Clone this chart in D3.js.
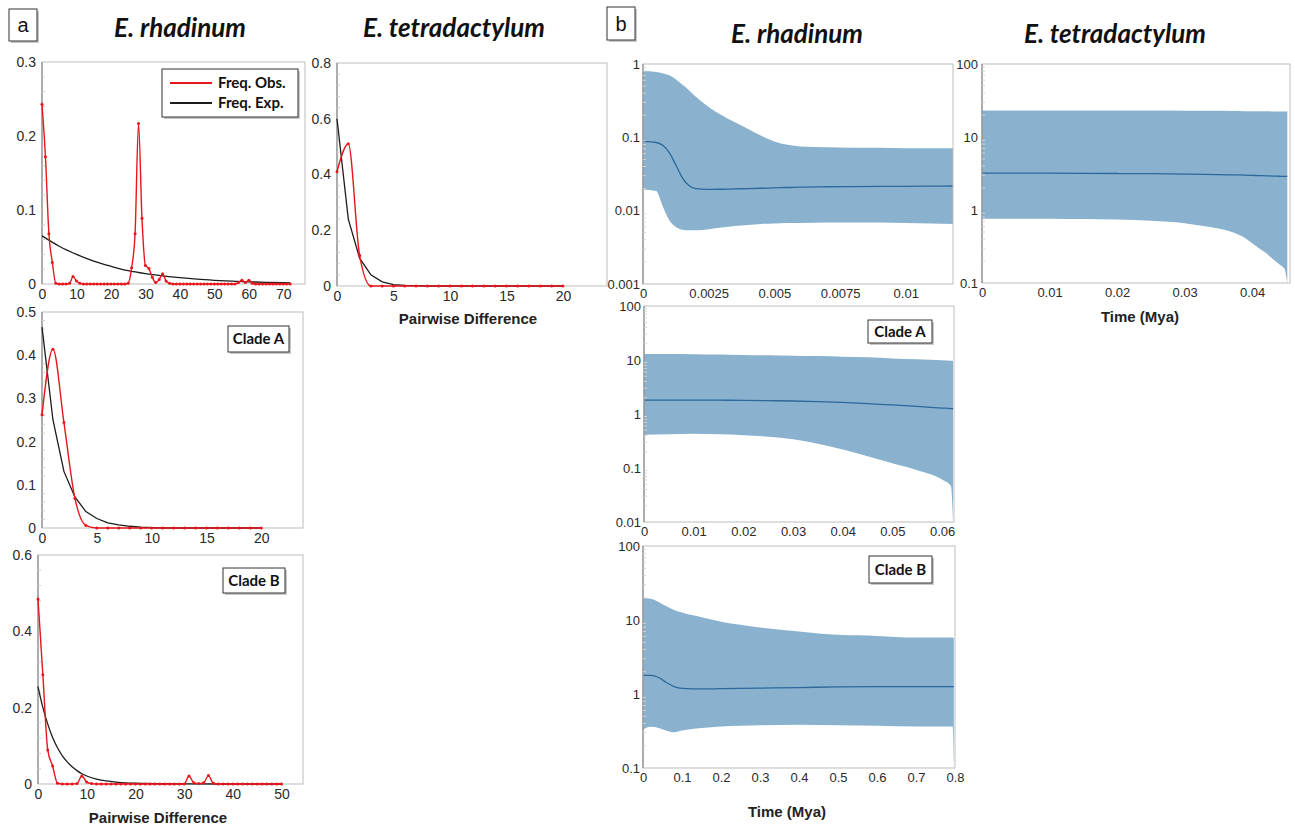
<!DOCTYPE html>
<html>
<head>
<meta charset="utf-8">
<script src="https://cdn.jsdelivr.net/npm/d3@7"></script>
<style>
  body { margin: 0; background: #fff; }
  svg { display: block; }
  text { font-family: "Liberation Sans", Arial, sans-serif; }
</style>
</head>
<body>
<svg id="fig" width="1295" height="827"></svg>
<script>
// ---- (a) mismatch distributions: index = pairwise difference ----
const rhaObs = [0.243, 0.172, 0.068, 0.029, 0.001, 0, 0, 0, 0.001, 0.010,
  0.004, 0.001, 0, 0, 0, 0, 0, 0, 0, 0,
  0, 0, 0, 0, 0, 0.001, 0.022, 0.068, 0.217, 0.089,
  0.025, 0.021, 0.009, 0.002, 0.006, 0.014, 0.004, 0.001, 0, 0,
  0, 0, 0, 0, 0, 0, 0, 0, 0, 0,
  0, 0, 0, 0, 0, 0, 0, 0.002, 0.005, 0.002,
  0.005, 0.001, 0, 0, 0, 0, 0, 0, 0, 0,
  0, 0, 0];
const rhaExpX = [0, 5, 10, 15, 20, 25, 30, 35, 40, 45, 50, 55, 60, 65, 72];
const rhaExp = [0.065, 0.051, 0.040, 0.031, 0.024, 0.018, 0.014, 0.011, 0.0085, 0.0065, 0.005, 0.0038, 0.003, 0.0022, 0.0015];

const cladeAObs = [0.262, 0.414, 0.244, 0.069, 0.006, 0, 0, 0, 0, 0, 0, 0, 0, 0, 0, 0, 0, 0, 0, 0, 0];
const cladeAExp = [0.465, 0.250, 0.131, 0.072, 0.038, 0.022, 0.012, 0.007, 0.004, 0.002, 0.001, 0, 0, 0, 0, 0, 0, 0, 0, 0, 0];

const cladeBObs = [0.485, 0.286, 0.089, 0.047, 0.002, 0, 0, 0, 0.001, 0.021,
  0.005, 0.001, 0, 0, 0, 0, 0, 0, 0, 0,
  0, 0, 0, 0, 0, 0, 0, 0, 0, 0,
  0, 0.021, 0.003, 0.001, 0.003, 0.022, 0.002, 0, 0, 0,
  0, 0, 0, 0, 0, 0, 0, 0, 0, 0,
  0];
const cladeBExpX = [0, 1, 2, 3, 4, 5, 6, 7, 8, 9, 10, 12, 14, 16, 18, 20, 25, 30, 40, 50];
const cladeBExp = [0.255, 0.200, 0.157, 0.122, 0.095, 0.074, 0.058, 0.045, 0.035, 0.027, 0.021, 0.013, 0.008, 0.005, 0.003, 0.002, 0.0007, 0.0002, 0, 0];

const tetObs = [0.41, 0.51, 0.11, 0, 0, 0, 0, 0, 0, 0, 0, 0, 0, 0, 0, 0, 0, 0, 0, 0, 0];
const tetExp = [0.60, 0.24, 0.10, 0.04, 0.015, 0.005, 0.002, 0.001, 0, 0, 0, 0, 0, 0, 0, 0, 0, 0, 0, 0, 0];

// ---- (b) Bayesian skyline plots: time (Mya), 95% HPD and median ----
const rhaT = [0, 0.0005, 0.00075, 0.001, 0.00125, 0.0015, 0.00175, 0.002, 0.0025, 0.003, 0.0035, 0.004, 0.0045, 0.005, 0.0055, 0.006, 0.007, 0.008, 0.009, 0.01, 0.011, 0.0118];
const rhaHi = [0.80, 0.78, 0.75, 0.70, 0.62, 0.52, 0.44, 0.36, 0.26, 0.20, 0.16, 0.13, 0.105, 0.088, 0.079, 0.075, 0.073, 0.072, 0.072, 0.071, 0.071, 0.071];
const rhaMed = [0.088, 0.085, 0.078, 0.062, 0.042, 0.028, 0.022, 0.020, 0.0195, 0.0196, 0.0198, 0.020, 0.0202, 0.0205, 0.0207, 0.021, 0.0212, 0.0213, 0.0214, 0.0215, 0.0216, 0.0217];
const rhaLo = [0.0195, 0.0185, 0.0115, 0.0074, 0.0060, 0.0055, 0.0054, 0.0054, 0.0056, 0.0059, 0.0062, 0.0064, 0.0066, 0.0067, 0.0068, 0.0068, 0.0069, 0.0069, 0.0069, 0.0068, 0.0067, 0.0066];

const tetT = [0, 0.005, 0.01, 0.015, 0.02, 0.025, 0.03, 0.033, 0.035, 0.037, 0.039, 0.04, 0.041, 0.042, 0.043, 0.044, 0.0448, 0.0452];
const tetHi = [23.0, 23.0, 23.0, 23.0, 23.0, 23.0, 22.9, 22.9, 22.8, 22.7, 22.6, 22.6, 22.5, 22.5, 22.4, 22.4, 22.3, 22.3];
const tetMed = [3.2, 3.2, 3.2, 3.18, 3.16, 3.14, 3.1, 3.08, 3.06, 3.03, 3.0, 2.98, 2.96, 2.94, 2.92, 2.9, 2.88, 2.88];
const tetLo = [0.76, 0.76, 0.76, 0.75, 0.74, 0.71, 0.66, 0.60, 0.56, 0.50, 0.41, 0.35, 0.30, 0.26, 0.215, 0.18, 0.155, 0.10];

const aT = [0, 0.005, 0.01, 0.015, 0.02, 0.025, 0.03, 0.035, 0.04, 0.045, 0.05, 0.055, 0.06, 0.0618, 0.0622];
const aHi = [12.9, 12.9, 12.8, 12.6, 12.4, 12.2, 12.0, 11.8, 11.5, 11.2, 10.7, 10.3, 9.9, 9.7, 9.6];
const aMed = [1.80, 1.80, 1.81, 1.80, 1.79, 1.77, 1.74, 1.70, 1.64, 1.56, 1.47, 1.38, 1.29, 1.26, 1.25];
const aLo = [0.415, 0.42, 0.43, 0.42, 0.405, 0.38, 0.34, 0.28, 0.22, 0.165, 0.122, 0.091, 0.061, 0.046, 0.01];

const bT = [0, 0.01, 0.02, 0.04, 0.06, 0.08, 0.1, 0.15, 0.2, 0.25, 0.3, 0.4, 0.5, 0.6, 0.7, 0.794, 0.797];
const bHi = [19.7, 19.6, 19.3, 17.5, 15.3, 13.7, 12.6, 10.9, 9.5, 8.6, 7.9, 7.0, 6.3, 6.1, 5.8, 5.8, 5.7];
const bMed = [1.78, 1.78, 1.78, 1.67, 1.43, 1.26, 1.19, 1.17, 1.18, 1.19, 1.20, 1.22, 1.25, 1.26, 1.26, 1.26, 1.26];
const bLo = [0.33, 0.353, 0.36, 0.347, 0.319, 0.303, 0.32, 0.347, 0.365, 0.372, 0.377, 0.385, 0.377, 0.373, 0.365, 0.365, 0.1];

const svg = d3.select("#fig");
const RED = "#e8161b", BAND = "#8ab2cf", MEDIAN = "#2c6899";
const LABEL_FONT = "Lato, 'Liberation Sans', sans-serif";

// boxed label with a soft drop shadow
function box(x, y, w, h, label, size, bold) {
  svg.append("rect").attr("x", x + 2).attr("y", y + 2).attr("width", w).attr("height", h)
    .attr("fill", "#9a9a9a").attr("opacity", 0.55);
  svg.append("rect").attr("x", x).attr("y", y).attr("width", w).attr("height", h)
    .attr("fill", "#fff").attr("stroke", "#333").attr("stroke-width", 1);
  svg.append("text").attr("x", x + w / 2).attr("y", y + h / 2).attr("dy", "0.35em")
    .attr("text-anchor", "middle").style("font-size", size + "px")
    .style("font-family", bold ? LABEL_FONT : null)
    .style("font-weight", bold ? "bold" : "normal").attr("fill", "#111").text(label);
}

function title(x, y, txt) {
  svg.append("text").attr("x", x).attr("y", y).attr("text-anchor", "middle")
    .style("font-family", LABEL_FONT)
    .style("font-size", "26px").style("font-weight", "bold").style("font-style", "italic")
    .attr("fill", "#111").text(txt);
}

function axisLabel(x, y, txt) {
  svg.append("text").attr("x", x).attr("y", y).attr("text-anchor", "middle")
    .style("font-size", "15px").style("font-weight", "bold").attr("fill", "#222").text(txt);
}

function drawAxes(g, p, x, y, yPad, fs) {
  const styleAxis = sel => {
    sel.select(".domain").remove();
    sel.selectAll("text").style("font-size", fs + "px").attr("fill", "#2a2a2a");
  };
  g.append("g").attr("transform", `translate(0,${p.bottom})`)
    .call(d3.axisBottom(x).tickValues(p.xTicks).tickSize(0).tickPadding(5).tickFormat(d => String(d)))
    .call(styleAxis);
  g.append("g").attr("transform", `translate(${p.left},0)`)
    .call(d3.axisLeft(y).tickValues(p.yTicks).tickSize(0).tickPadding(yPad).tickFormat(d => String(d)))
    .call(styleAxis);
}

function frame(g, p) {
  g.append("rect").attr("x", p.left).attr("y", p.top)
    .attr("width", p.right - p.left).attr("height", p.bottom - p.top)
    .attr("fill", "none").attr("stroke", "#bdbdbd").attr("stroke-width", 1);
  g.append("line").attr("x1", p.left).attr("x2", p.left).attr("y1", p.top).attr("y2", p.bottom)
    .attr("stroke", "#8a8a8a").attr("stroke-width", 1.2);
}

function mismatch(p) {
  const g = svg.append("g");
  const x = d3.scaleLinear().domain(p.xDomain).range([p.left, p.right]);
  const y = d3.scaleLinear().domain(p.yDomain).range([p.bottom, p.top]);

  frame(g, p);
  // faint minor ticks on the value axis
  const step = p.yTicks[1] - p.yTicks[0];
  const minor = [];
  p.yTicks.slice(0, -1).forEach(t => [1, 2, 3, 4].forEach(k => minor.push(t + step * k / 5)));
  g.selectAll(".mn").data(minor).enter().append("line")
    .attr("x1", p.left).attr("x2", p.left + 3).attr("y1", d => y(d)).attr("y2", d => y(d))
    .attr("stroke", "#cfcfcf");

  drawAxes(g, p, x, y, 6, 14);

  const expPts = p.expX ? p.expX.map((d, i) => [d, p.exp[i]]) : p.exp.map((d, i) => [i, d]);
  g.append("path").datum(expPts)
    .attr("d", d3.line().x(d => x(d[0])).y(d => y(d[1])).curve(p.expCurve || d3.curveLinear))
    .attr("fill", "none").attr("stroke", "#1c1c1c").attr("stroke-width", 1.3);

  const obsPts = p.obs.map((d, i) => [i, d]);
  g.append("path").datum(obsPts)
    .attr("d", d3.line().x(d => x(d[0])).y(d => y(d[1])).curve(d3.curveMonotoneX))
    .attr("fill", "none").attr("stroke", RED).attr("stroke-width", 1.4);
  g.selectAll(".dot").data(obsPts).enter().append("circle")
    .attr("cx", d => x(d[0])).attr("cy", d => y(d[1])).attr("r", 1.5).attr("fill", RED);
}

function skyline(p) {
  const g = svg.append("g");
  const x = d3.scaleLinear().domain(p.xDomain).range([p.left, p.right]);
  const y = d3.scaleLog().domain(p.yDomain).range([p.bottom, p.top]).clamp(true);
  const pts = p.t.map((t, i) => ({ t, lo: p.lo[i], med: p.med[i], hi: p.hi[i] }));

  g.append("path").datum(pts)
    .attr("d", d3.area().x(d => x(d.t)).y0(d => y(d.lo)).y1(d => y(d.hi)).curve(d3.curveMonotoneX))
    .attr("fill", BAND);
  g.append("path").datum(pts)
    .attr("d", d3.line().x(d => x(d.t)).y(d => y(d.med)).curve(d3.curveMonotoneX))
    .attr("fill", "none").attr("stroke", MEDIAN).attr("stroke-width", 1.3);

  frame(g, p);
  // log minor ticks
  const minor = [];
  p.yTicks.slice(0, -1).forEach(t => [2, 3, 4, 5, 6, 7, 8, 9].forEach(k => minor.push(t * k)));
  g.selectAll(".mn").data(minor).enter().append("line")
    .attr("x1", p.left).attr("x2", p.left + 3).attr("y1", d => y(d)).attr("y2", d => y(d))
    .attr("stroke", "#d2d2d2");

  drawAxes(g, p, x, y, p.yPad || 3, 13);
}

// ---------- panel a ----------
box(9, 9, 28, 32, "a", 20, false);
title(180, 37, "E. rhadinum");
title(454, 37, "E. tetradactylum");

mismatch({ left: 42, right: 305, top: 62, bottom: 284, xDomain: [0, 76.3], yDomain: [0, 0.3],
  xTicks: [0, 10, 20, 30, 40, 50, 60, 70], yTicks: [0, 0.1, 0.2, 0.3],
  obs: rhaObs, expX: rhaExpX, exp: rhaExp, expCurve: d3.curveMonotoneX });
mismatch({ left: 42, right: 303, top: 312, bottom: 528, xDomain: [0, 23.8], yDomain: [0, 0.5],
  xTicks: [0, 5, 10, 15, 20], yTicks: [0, 0.1, 0.2, 0.3, 0.4, 0.5],
  obs: cladeAObs, exp: cladeAExp });
mismatch({ left: 38, right: 303, top: 555, bottom: 784, xDomain: [0, 54.4], yDomain: [0, 0.6],
  xTicks: [0, 10, 20, 30, 40, 50], yTicks: [0, 0.2, 0.4, 0.6],
  obs: cladeBObs, expX: cladeBExpX, exp: cladeBExp, expCurve: d3.curveMonotoneX });
mismatch({ left: 337, right: 607, top: 63, bottom: 286, xDomain: [0, 23.9], yDomain: [0, 0.8],
  xTicks: [0, 5, 10, 15, 20], yTicks: [0, 0.2, 0.4, 0.6, 0.8],
  obs: tetObs, exp: tetExp });

// legend
const lg = svg.append("g");
lg.append("rect").attr("x", 164).attr("y", 71).attr("width", 136).attr("height", 48).attr("fill", "#9a9a9a").attr("opacity", 0.55);
lg.append("rect").attr("x", 162).attr("y", 69).attr("width", 136).attr("height", 48).attr("fill", "#fff").attr("stroke", "#333");
[["Freq. Obs.", RED, 83], ["Freq. Exp.", "#1c1c1c", 103]].forEach(([name, col, yy]) => {
  lg.append("line").attr("x1", 170).attr("x2", 212).attr("y1", yy).attr("y2", yy).attr("stroke", col).attr("stroke-width", 2);
  lg.append("text").attr("x", 218).attr("y", yy).attr("dy", "0.35em")
    .style("font-family", LABEL_FONT).style("font-size", "15px").style("font-weight", "bold")
    .attr("fill", "#111").text(name);
});
box(228, 326, 61, 26, "Clade A", 15, true);
box(223, 568, 62, 25, "Clade B", 15, true);
axisLabel(158, 823, "Pairwise Difference");
axisLabel(468, 324, "Pairwise Difference");

// ---------- panel b ----------
box(607, 7, 28, 33, "b", 20, false);
title(797, 43, "E. rhadinum");
title(1115, 43, "E. tetradactylum");

skyline({ left: 643, right: 953, top: 64, bottom: 284, xDomain: [0, 0.0118], yDomain: [0.001, 1],
  xTicks: [0, 0.0025, 0.005, 0.0075, 0.01], yTicks: [0.001, 0.01, 0.1, 1],
  t: rhaT, lo: rhaLo, med: rhaMed, hi: rhaHi });
skyline({ left: 982, right: 1290, top: 64, bottom: 283, xDomain: [0, 0.0456], yDomain: [0.1, 100],
  xTicks: [0, 0.01, 0.02, 0.03, 0.04], yTicks: [0.1, 1, 10, 100], yPad: 4,
  t: tetT, lo: tetLo, med: tetMed, hi: tetHi });
skyline({ left: 644, right: 954, top: 306, bottom: 522, xDomain: [0, 0.0624], yDomain: [0.01, 100],
  xTicks: [0, 0.01, 0.02, 0.03, 0.04, 0.05, 0.06], yTicks: [0.01, 0.1, 1, 10, 100],
  t: aT, lo: aLo, med: aMed, hi: aHi });
skyline({ left: 643, right: 955, top: 546, bottom: 768, xDomain: [0, 0.8], yDomain: [0.1, 100],
  xTicks: [0, 0.1, 0.2, 0.3, 0.4, 0.5, 0.6, 0.7, 0.8], yTicks: [0.1, 1, 10, 100],
  t: bT, lo: bLo, med: bMed, hi: bHi });

box(868, 320, 64, 23, "Clade A", 15, true);
box(869, 556, 63, 27, "Clade B", 15, true);
axisLabel(1140, 322, "Time (Mya)");
axisLabel(787, 817, "Time (Mya)");
</script>
</body>
</html>
